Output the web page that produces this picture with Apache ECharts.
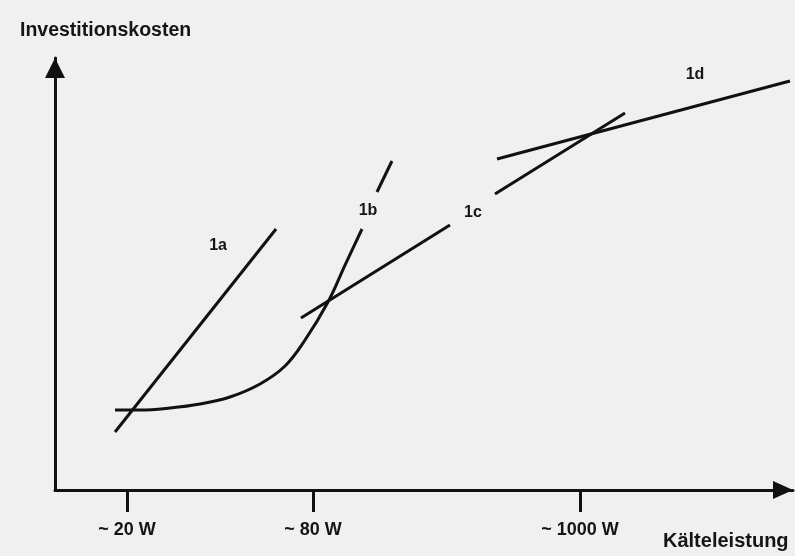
<!DOCTYPE html>
<html>
<head>
<meta charset="utf-8">
<script src="https://cdn.jsdelivr.net/npm/echarts@6/dist/echarts.min.js"></script>
<style>
  html, body { margin: 0; padding: 0; background: #f0f0f0; }
  #main { width: 795px; height: 556px; }
</style>
</head>
<body>
<div id="main"></div>
<script>
// schematic units: x and y both 0..100
var tickValues = [9.76, 34.96, 71.14];
var tickLabels = ["~ 20 W", "~ 80 W", "~ 1000 W"];

var line1a = [[8.13, 13.43], [29.95, 60.42]];
var line1bLower = [[8.13, 18.52], [11.52, 18.52], [15.58, 18.98], [19.65, 19.91], [23.71, 21.53],
  [27.78, 24.54], [31.17, 28.70], [33.88, 34.72], [36.99, 43.52], [39.30, 52.08], [41.60, 60.42]];
var line1bUpper = [[43.63, 68.98], [45.66, 76.16]];
var line1cLower = [[33.33, 39.81], [53.52, 61.34]];
var line1cUpper = [[59.62, 68.52], [77.24, 87.27]];
var line1d = [[59.89, 76.62], [99.59, 94.68]];

var curveNames = ["1a", "1b", "1c", "1d"];
var curveLabelAt = [[22.09, 56.48], [42.41, 64.58], [56.64, 64.12], [86.72, 96.06]];

var myChart = echarts.init(document.getElementById("main"));

function seg(data, smooth) {
  return {
    type: "line",
    data: data,
    smooth: smooth ? 0.4 : false,
    showSymbol: false,
    silent: true,
    lineStyle: { color: "#111", width: 3 }
  };
}

var font = "Liberation Sans";

var option = {
  backgroundColor: "#f0f0f0",
  animation: false,
  title: [
    {
      text: "Investitionskosten",
      left: 20, top: 21, padding: 0,
      textStyle: { fontFamily: font, fontWeight: "bold", fontSize: 19.5, color: "#151515" }
    },
    {
      text: "Kälteleistung",
      left: 663, top: 531, padding: 0,
      textStyle: { fontFamily: font, fontWeight: "bold", fontSize: 20, color: "#151515" }
    }
  ],
  grid: { left: 55, right: 2, top: 58, bottom: 66 },
  xAxis: {
    type: "value",
    min: 0, max: 100,
    splitLine: { show: false },
    axisLine: {
      lineStyle: { color: "#111", width: 3 },
      symbol: ["none", "triangle"],
      symbolSize: [18, 20],
      symbolOffset: [0, -10]
    },
    axisTick: { customValues: tickValues, length: 22, lineStyle: { color: "#111", width: 3 } },
    axisLabel: {
      customValues: tickValues,
      margin: 31,
      fontFamily: font, fontWeight: "bold", fontSize: 18, color: "#151515",
      formatter: function (v) {
        for (var i = 0; i < tickValues.length; i++) {
          if (Math.abs(tickValues[i] - v) < 0.01) return tickLabels[i];
        }
        return "";
      }
    }
  },
  yAxis: {
    type: "value",
    min: 0, max: 100,
    splitLine: { show: false },
    axisTick: { show: false },
    axisLabel: { show: false },
    axisLine: {
      show: true,
      lineStyle: { color: "#111", width: 3 },
      symbol: ["none", "triangle"],
      symbolSize: [20, 20],
      symbolOffset: [0, -10]
    }
  },
  series: [
    seg(line1a), seg(line1bLower, true), seg(line1bUpper),
    seg(line1cLower), seg(line1cUpper), seg(line1d),
    {
      type: "scatter",
      symbolSize: 0,
      silent: true,
      data: curveLabelAt.map(function (p, i) { return { value: p, name: curveNames[i] }; }),
      label: {
        show: true,
        position: "inside",
        formatter: "{b}",
        opacity: 1,
        textBorderWidth: 0,
        fontFamily: font, fontWeight: "bold", fontSize: 16, color: "#151515"
      }
    }
  ]
};

myChart.setOption(option);
</script>
</body>
</html>
